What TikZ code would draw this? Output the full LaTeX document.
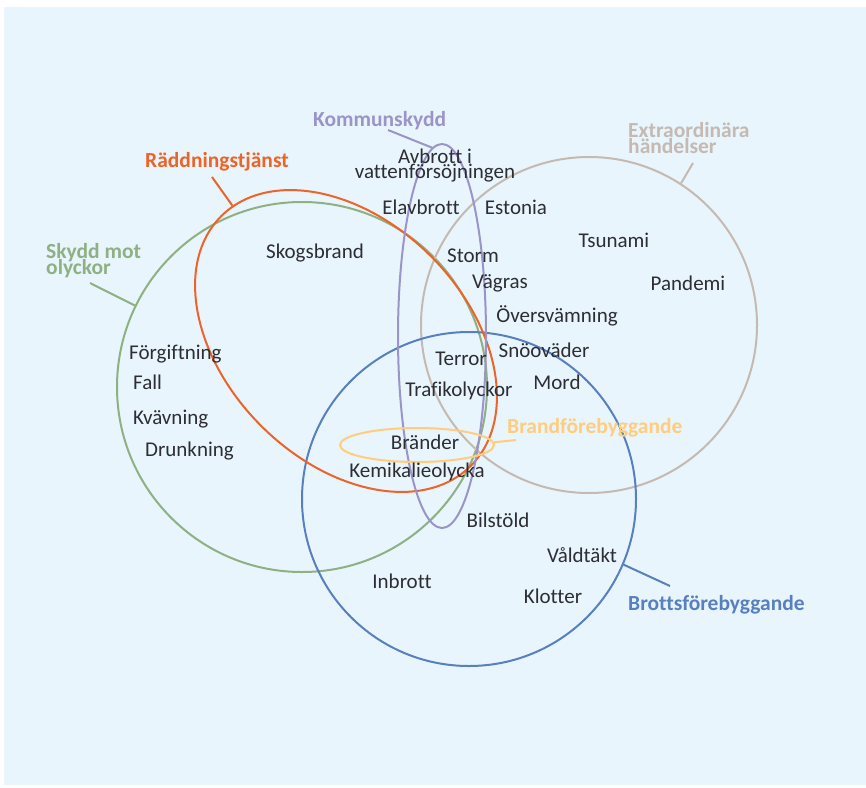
\documentclass[tikz,border=0pt]{standalone}
\usepackage{fontspec}
\setmainfont{Carlito}[Ligatures=CommonOff]
\usetikzlibrary{shapes.geometric}
\definecolor{bgblue}{RGB}{232,245,253}
\definecolor{cgreen}{RGB}{143,176,130}
\definecolor{corange}{RGB}{236,100,40}
\definecolor{cpurple}{RGB}{155,148,200}
\definecolor{cgrey}{RGB}{196,186,178}
\definecolor{cblue}{RGB}{88,128,190}
\definecolor{cyellow}{RGB}{255,205,125}
\definecolor{ctext}{RGB}{45,45,50}
\newcommand\mytightlines{\lineskiplimit=-50pt\relax}
\newcommand\mylabfont{\fontsize{21.5}{16}\selectfont\bfseries\mytightlines}
\newcommand\myitemfont{\fontsize{21}{15}\selectfont\mytightlines}
\begin{document}
\begin{tikzpicture}[x=1pt,y=-1pt,
  setline/.style={line width=2pt},
  item/.style={font=\myitemfont, text=ctext, inner sep=0pt, anchor=base},
  itemL/.style={item, anchor=base west},
  lab/.style={font=\mylabfont, inner sep=0pt, anchor=base west},
  ring/.style={setline, circle, inner sep=0pt, minimum size=#1},
]
\useasboundingbox (0,0) rectangle (866,787);
\fill[bgblue] (4,7) rectangle (866,785);

% sets
\node[ring=370pt, draw=cgreen] (sm) at (302,387) {};
\node[ring=336pt, draw=cgrey] (ex) at (589,325) {};
\node[ring=334pt, draw=cblue] (bt) at (469,499) {};
\node[setline, draw=corange, ellipse, inner sep=0pt, minimum width=353pt, minimum height=240pt, rotate=-45] (rt) at (346,341) {};
\node[setline, draw=cpurple, ellipse, inner sep=0pt, minimum width=88pt, minimum height=384pt] (ks) at (442,336) {};
\node[setline, draw=cyellow, ellipse, inner sep=0pt, minimum width=154pt, minimum height=34pt] (bf) at (417,445) {};

% labels
\node[lab, text=cpurple] (lks) at (313,126) {Kommunskydd};
\node[lab, text=corange] (lrt) at (145,167) {Räddningstjänst};
\node[lab, text=cgreen, align=left, anchor=north west] (lsm) at (46,243) {Skydd mot\\olyckor};
\node[lab, text=cgrey, align=left, anchor=north west] (lex) at (628,122) {Extraordinära\\händelser};
\node[lab, text=cyellow] (lbf) at (507,433) {Brandförebyggande};
\node[lab, text=cblue] (lbt) at (628,610) {Brottsförebyggande};

% leader ends
\coordinate (eks) at (388,130);
\coordinate (ert) at (212,177);
\coordinate (esm) at (90,283);
\coordinate (eex) at (693,163);
\coordinate (ebf) at (516,440);
\coordinate (ebt) at (670,586);

\draw[setline, cpurple] (eks) -- (ks.93);
\draw[setline, corange] (ert) -- (rt.175);
\draw[setline, cgreen] (esm) -- (sm.154);
\draw[setline, cgrey] (eex) -- (ex.57);
\draw[setline, cyellow] (ebf) -- (bf.2);
\draw[setline, cblue] (ebt) -- (bt.-23.5);

% items
\node[item, align=center, anchor=north] (i1) at (435,148.5) {Avbrott i\\vattenförsöjningen};
\node[item] (i3) at (421,214) {Elavbrott};
\node[item] (i4) at (516,214) {Estonia};
\node[item] (i5) at (315,258) {Skogsbrand};
\node[item] (i6) at (614,247) {Tsunami};
\node[item] (i7) at (473,262) {Storm};
\node[item] (i8) at (500,288) {Vägras};
\node[item] (i9) at (688,290) {Pandemi};
\node[item] (i10) at (557,322) {Översvämning};
\node[itemL] (i11) at (129,359) {Förgiftning};
\node[itemL] (i12) at (133,389) {Fall};
\node[itemL] (i13) at (133,424) {Kvävning};
\node[itemL] (i14) at (145,456) {Drunkning};
\node[item] (i15) at (461,365) {Terror};
\node[item] (i16) at (544,357) {Snöoväder};
\node[item] (i17) at (459,396) {Trafikolyckor};
\node[item] (i18) at (557,389) {Mord};
\node[item] (i19) at (425,449) {Bränder};
\node[item] (i20) at (417,477) {Kemikalieolycka};
\node[item] (i21) at (498,527) {Bilstöld};
\node[item] (i22) at (582,562) {Våldtäkt};
\node[item] (i23) at (402,588) {Inbrott};
\node[item] (i24) at (553,603) {Klotter};
\end{tikzpicture}
\end{document}
